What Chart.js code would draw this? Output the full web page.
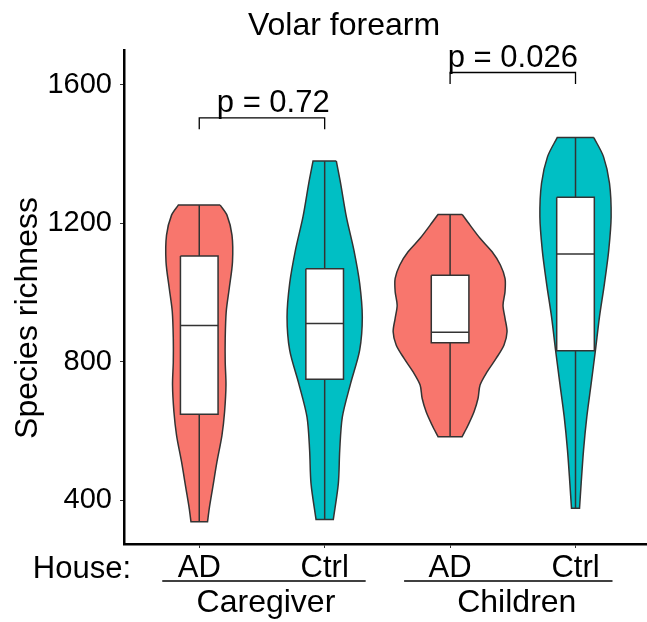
<!DOCTYPE html>
<html lang="en">
<head>
<meta charset="UTF-8">
<title>Volar forearm</title>
<script src="https://cdn.jsdelivr.net/npm/chart.js"></script>
<style>
  body { margin: 0; background: #fff; }
</style>
</head>
<body>
<canvas id="violinChart" width="647" height="622"></canvas>
<script>
// groups along the x axis (positions 1..4)
const groups = ['Caregiver', 'Caregiver', 'Children', 'Children'];
const houses = ['AD', 'Ctrl', 'AD', 'Ctrl'];
const yTicks = [400, 800, 1200, 1600];

// boxplot statistics
const lowerWhisker = [338, 345, 586, 377];
const q1 = [649, 750, 855, 832];
const medians = [905, 911, 886, 1112];
const q3 = [1106, 1069, 1050, 1276];
const upperWhisker = [1253, 1380, 1226, 1448];

// violin outlines: species richness levels (top to bottom) and half width of the density there
const violinLevels = [
  [1253, 1224, 1166, 1089, 1012, 945, 868, 800, 733, 656, 588, 511, 434, 377, 338],
  [1380, 1316, 1219, 1123, 1027, 930, 834, 738, 641, 545, 449, 345],
  [1226, 1195, 1157, 1118, 1080, 1041, 1003, 964, 926, 887, 849, 810, 771, 733, 695, 656, 617, 584],
  [1448, 1393, 1316, 1219, 1123, 1027, 930, 834, 738, 641, 545, 449, 377]
];
const violinWidths = [
  [0.167, 0.221, 0.261, 0.265, 0.239, 0.215, 0.207, 0.207, 0.213, 0.202, 0.181, 0.141, 0.106, 0.080, 0.066],
  [0.093, 0.127, 0.173, 0.233, 0.279, 0.300, 0.279, 0.207, 0.141, 0.120, 0.109, 0.069],
  [0.096, 0.159, 0.239, 0.335, 0.401, 0.438, 0.438, 0.422, 0.438, 0.454, 0.430, 0.367, 0.295, 0.239, 0.223, 0.191, 0.143, 0.096],
  [0.146, 0.223, 0.271, 0.284, 0.265, 0.231, 0.191, 0.159, 0.125, 0.090, 0.064, 0.045, 0.032]
];

// pairwise comparisons
const pLabels = ['p = 0.72', 'p = 0.026'];
const pPairs = [[1, 2], [3, 4]];
const bracketY = [1505, 1636];

const fillColors = ['#F8766D', '#00BFC4', '#F8766D', '#00BFC4'];
const edge = '#333333';
const FONT = '"Liberation Sans", Arial, sans-serif';
const boxHalf = 0.15;

const datasets = [];
const thin = { pointRadius: 0, borderWidth: 1.5, borderColor: edge, showLine: true };

houses.forEach((h, i) => {
  const c = i + 1;
  const lv = violinLevels[i];
  const w = violinWidths[i];
  const right = lv.map((v, k) => ({ x: c + w[k], y: v }));
  const left = lv.map((v, k) => ({ x: c - w[k], y: v })).reverse();
  // corners are repeated so the smoothed outline keeps flat ends
  const outline = [right[0], ...right, right[right.length - 1],
                   left[0], ...left, left[left.length - 1], right[0]];
  datasets.push({ ...thin, data: outline, fill: 'shape',
    backgroundColor: fillColors[i], tension: 0.3, order: 5 });
  datasets.push({ ...thin, data: [{ x: c, y: lowerWhisker[i] }, { x: c, y: q1[i] }], order: 4 });
  datasets.push({ ...thin, data: [{ x: c, y: q3[i] }, { x: c, y: upperWhisker[i] }], order: 4 });
  datasets.push({ ...thin, fill: 'shape', backgroundColor: '#ffffff', order: 3, data: [
    { x: c - boxHalf, y: q3[i] }, { x: c + boxHalf, y: q3[i] },
    { x: c + boxHalf, y: q1[i] }, { x: c - boxHalf, y: q1[i] }, { x: c - boxHalf, y: q3[i] }
  ] });
  datasets.push({ ...thin, order: 2, data: [{ x: c - boxHalf, y: medians[i] }, { x: c + boxHalf, y: medians[i] }] });
});

// comparison brackets
pPairs.forEach(([a, b], i) => {
  const tip = bracketY[i] - 33;
  datasets.push({ ...thin, borderWidth: 1.3, borderColor: '#000', order: 1, data: [
    { x: a, y: tip }, { x: a, y: bracketY[i] }, { x: b, y: bracketY[i] }, { x: b, y: tip }
  ] });
});

const annotate = {
  id: 'annotate',
  afterDraw(chart) {
    const { ctx, scales: { x, y } } = chart;
    ctx.save();
    ctx.fillStyle = '#000';
    ctx.font = '32px ' + FONT;
    ctx.textAlign = 'center';
    ctx.textBaseline = 'alphabetic';
    ctx.fillText('Volar forearm', 344, 35);

    ctx.font = '31px ' + FONT;
    const pLabelAt = [1.59, 3.5];
    pLabels.forEach((t, i) => {
      ctx.fillText(t, x.getPixelForValue(pLabelAt[i]), y.getPixelForValue(bracketY[i]) - 6);
    });

    // y axis title
    ctx.save();
    ctx.font = '32px ' + FONT;
    ctx.translate(28, 318);
    ctx.rotate(-Math.PI / 2);
    ctx.textBaseline = 'middle';
    ctx.fillText('Species richness', 0, 0);
    ctx.restore();

    ctx.textAlign = 'right';
    ctx.fillText('House:', 131, 578);

    // group labels with a rule under each pair of houses
    ctx.font = '32px ' + FONT;
    ctx.textAlign = 'center';
    ctx.strokeStyle = '#000';
    ctx.lineWidth = 1.3;
    const ruleEnds = [[-37, 41], [-46, 37]];
    ['Caregiver', 'Children'].forEach((g, j) => {
      const idx = groups.map((n, k) => n === g ? k + 1 : null).filter(v => v !== null);
      const x0 = x.getPixelForValue(idx[0]);
      const x1 = x.getPixelForValue(idx[idx.length - 1]);
      ctx.beginPath();
      ctx.moveTo(x0 + ruleEnds[j][0], 581);
      ctx.lineTo(x1 + ruleEnds[j][1], 581);
      ctx.stroke();
      ctx.fillText(g, (x0 + x1) / 2 + 4, 612);
    });
    ctx.restore();
  }
};

new Chart(document.getElementById('violinChart'), {
  type: 'scatter',
  data: { datasets },
  plugins: [annotate],
  options: {
    responsive: false,
    animation: false,
    layout: { padding: { top: 50, right: 0, bottom: 0, left: 0 } },
    plugins: { legend: { display: false }, tooltip: { enabled: false } },
    scales: {
      x: {
        type: 'linear',
        min: 0.4,
        max: 4.57,
        afterBuildTicks: (s) => { s.ticks = houses.map((h, i) => ({ value: i + 1 })); },
        afterFit: (s) => { s.height = 78; },
        ticks: {
          color: '#000',
          font: { family: FONT, size: 31 },
          padding: 2,
          callback: (v) => houses[v - 1]
        },
        grid: { drawOnChartArea: false, tickLength: 4, color: edge },
        border: { color: '#000', width: 2.5 }
      },
      y: {
        min: 274,
        max: 1701,
        afterBuildTicks: (s) => { s.ticks = yTicks.map(v => ({ value: v })); },
        afterFit: (s) => { s.width = 124; },
        ticks: {
          color: '#000',
          font: { family: FONT, size: 29 },
          padding: 8,
          callback: (v) => String(v)
        },
        grid: { drawOnChartArea: false, tickLength: 4, color: edge },
        border: { color: '#000', width: 2.5 }
      }
    }
  }
});
</script>
</body>
</html>
